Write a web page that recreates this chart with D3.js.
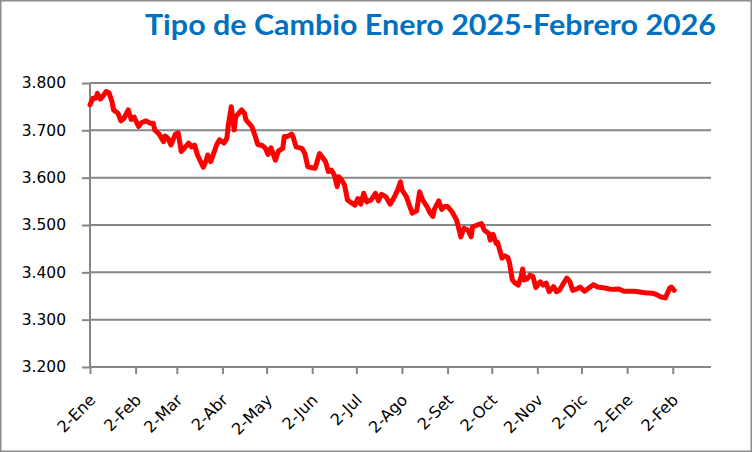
<!DOCTYPE html>
<html>
<head>
<meta charset="utf-8">
<script src="https://cdn.jsdelivr.net/npm/d3@7"></script>
<style>
  html, body { margin: 0; padding: 0; background: #fff; }
  svg { display: block; }
</style>
</head>
<body>
<svg id="chart" width="752" height="452"></svg>
<script>
const title = "Tipo de Cambio Enero 2025-Febrero 2026";

const dates = [
  "2025-01-02","2025-01-04","2025-01-06","2025-01-07","2025-01-09","2025-01-11","2025-01-13","2025-01-15","2025-01-17","2025-01-18",
  "2025-01-21","2025-01-23","2025-01-25","2025-01-28","2025-01-30","2025-02-01","2025-02-04","2025-02-06","2025-02-09","2025-02-12",
  "2025-02-14","2025-02-15","2025-02-18","2025-02-21","2025-02-22","2025-02-24","2025-02-26","2025-03-01","2025-03-03","2025-03-05",
  "2025-03-07","2025-03-10","2025-03-12","2025-03-14","2025-03-16","2025-03-20","2025-03-22","2025-03-23","2025-03-25","2025-03-27",
  "2025-03-29","2025-03-31","2025-04-03","2025-04-05","2025-04-06","2025-04-08","2025-04-10","2025-04-11","2025-04-13","2025-04-15",
  "2025-04-17","2025-04-18","2025-04-22","2025-04-24","2025-04-26","2025-04-29","2025-05-01","2025-05-03","2025-05-05","2025-05-08",
  "2025-05-10","2025-05-13","2025-05-14","2025-05-16","2025-05-19","2025-05-20","2025-05-22","2025-05-26","2025-05-28","2025-05-30",
  "2025-06-02","2025-06-04","2025-06-07","2025-06-11","2025-06-13","2025-06-15","2025-06-17","2025-06-19","2025-06-20","2025-06-22",
  "2025-06-24","2025-06-26","2025-06-29","2025-07-01","2025-07-03","2025-07-05","2025-07-07","2025-07-09","2025-07-12","2025-07-15",
  "2025-07-17","2025-07-19","2025-07-22","2025-07-25","2025-07-28","2025-07-30","2025-08-01","2025-08-02","2025-08-05","2025-08-07",
  "2025-08-09","2025-08-12","2025-08-14","2025-08-16","2025-08-19","2025-08-21","2025-08-23","2025-08-24","2025-08-27","2025-08-29",
  "2025-08-31","2025-09-02","2025-09-05","2025-09-08","2025-09-09","2025-09-11","2025-09-13","2025-09-16","2025-09-18","2025-09-19",
  "2025-09-23","2025-09-25","2025-09-27","2025-09-30","2025-10-01","2025-10-03","2025-10-05","2025-10-06","2025-10-09","2025-10-11",
  "2025-10-13","2025-10-14","2025-10-16","2025-10-18","2025-10-20","2025-10-22","2025-10-23","2025-10-24","2025-10-26","2025-10-28",
  "2025-10-30","2025-11-01","2025-11-04","2025-11-06","2025-11-08","2025-11-10","2025-11-13","2025-11-15","2025-11-17","2025-11-20",
  "2025-11-22","2025-11-24","2025-11-26","2025-11-29","2025-12-01","2025-12-04","2025-12-07","2025-12-10","2025-12-13","2025-12-18",
  "2025-12-22","2025-12-27","2025-12-31","2026-01-07","2026-01-14","2026-01-19","2026-01-22","2026-01-25","2026-01-28","2026-01-29",
  "2026-01-31","2026-02-01","2026-02-03"
];

const values = [
  3.754,3.768,3.768,3.778,3.766,3.773,3.782,3.779,3.760,3.743,
  3.736,3.720,3.725,3.743,3.723,3.728,3.708,3.716,3.720,3.715,
  3.715,3.701,3.692,3.676,3.688,3.683,3.669,3.692,3.694,3.655,
  3.662,3.673,3.665,3.669,3.648,3.622,3.637,3.648,3.634,3.651,
  3.669,3.680,3.673,3.683,3.711,3.750,3.701,3.729,3.736,3.743,
  3.736,3.722,3.708,3.690,3.670,3.668,3.663,3.649,3.663,3.637,
  3.656,3.662,3.687,3.687,3.692,3.687,3.665,3.662,3.651,3.623,
  3.621,3.620,3.651,3.634,3.613,3.616,3.606,3.581,3.602,3.595,
  3.584,3.553,3.546,3.542,3.556,3.544,3.567,3.549,3.553,3.567,
  3.551,3.565,3.560,3.544,3.560,3.574,3.591,3.574,3.560,3.542,
  3.525,3.530,3.570,3.553,3.539,3.526,3.518,3.533,3.551,3.533,
  3.539,3.539,3.528,3.511,3.500,3.475,3.493,3.489,3.475,3.496,
  3.501,3.503,3.489,3.482,3.468,3.480,3.461,3.463,3.430,3.435,
  3.431,3.421,3.384,3.377,3.373,3.391,3.407,3.384,3.386,3.394,
  3.391,3.368,3.380,3.373,3.377,3.359,3.370,3.359,3.362,3.378,
  3.388,3.381,3.362,3.365,3.369,3.360,3.367,3.374,3.369,3.367,
  3.364,3.365,3.360,3.360,3.357,3.356,3.353,3.348,3.346,3.353,
  3.367,3.369,3.362
];

const tickDates = [
  "2025-01-02","2025-02-02","2025-03-02","2025-04-02","2025-05-02","2025-06-02","2025-07-02",
  "2025-08-02","2025-09-02","2025-10-02","2025-11-02","2025-12-02","2026-01-02","2026-02-02"
];
const tickLabels = ["2-Ene","2-Feb","2-Mar","2-Abr","2-May","2-Jun","2-Jul","2-Ago","2-Set","2-Oct","2-Nov","2-Dic","2-Ene","2-Feb"];
const yTicks = [3.2, 3.3, 3.4, 3.5, 3.6, 3.7, 3.8];
const xDomain = ["2025-01-02", "2026-02-28"];

const parse = d3.utcParse("%Y-%m-%d");
const data = dates.map((d, i) => ({ date: parse(d), value: values[i] }));

const svg = d3.select("#chart");
const plotL = 90, plotR = 711, plotT = 83, plotB = 367;

const x = d3.scaleUtc().domain(xDomain.map(parse)).range([plotL, plotR]);
const y = d3.scaleLinear().domain([3.2, 3.8]).range([plotB, plotT]);

// outer border
svg.append("rect").attr("x", 0.75).attr("y", 0.75).attr("width", 750.5).attr("height", 450.5)
  .attr("fill", "#fff").attr("stroke", "#8c8c8c").attr("stroke-width", 1.5);

// title
svg.append("text").attr("x", 716).attr("y", 35).attr("text-anchor", "end")
  .attr("font-family", "Lato, 'Open Sans', sans-serif").attr("font-weight", "bold")
  .attr("font-size", 28).attr("fill", "#0070C0")
  .attr("textLength", 571).attr("lengthAdjust", "spacingAndGlyphs")
  .text(title);

// gridlines
svg.append("g").selectAll("line").data(yTicks.filter(v => v > 3.2)).join("line")
  .attr("x1", plotL).attr("x2", plotR)
  .attr("y1", d => y(d)).attr("y2", d => y(d))
  .attr("stroke", "#868686").attr("stroke-width", 2);

// y axis
const yAxis = d3.axisLeft(y).tickValues(yTicks).tickSize(8).tickPadding(16)
  .tickFormat(d => d3.format(".3f")(d));
const gy = svg.append("g").attr("transform", `translate(${plotL},0)`).call(yAxis);
gy.select(".domain").attr("stroke", "#868686").attr("stroke-width", 2).attr("d", `M0,${plotT}V${plotB}`);
gy.selectAll(".tick line").attr("stroke", "#868686").attr("stroke-width", 2);
gy.selectAll(".tick text").attr("font-family", "'DejaVu Sans', sans-serif").attr("font-size", 15.5).attr("fill", "#000");

// x axis
const xAxis = d3.axisBottom(x).tickValues(tickDates.map(parse)).tickSize(7)
  .tickFormat((d, i) => tickLabels[i]);
const gx = svg.append("g").attr("transform", `translate(0,${plotB})`).call(xAxis);
gx.select(".domain").attr("stroke", "#868686").attr("stroke-width", 2).attr("d", `M${plotL},0H${plotR}`);
gx.selectAll(".tick line").attr("stroke", "#868686").attr("stroke-width", 2);
gx.selectAll(".tick text")
  .attr("font-family", "'DejaVu Sans', sans-serif").attr("font-size", 16).attr("fill", "#000")
  .attr("text-anchor", "end").attr("dy", null).attr("y", 0)
  .attr("transform", "translate(6,34) rotate(-45)");

// line
const line = d3.line().x(d => x(d.date)).y(d => y(d.value)).curve(d3.curveLinear);
svg.append("path").datum(data).attr("d", line)
  .attr("fill", "none").attr("stroke", "#ff0000").attr("stroke-width", 5)
  .attr("stroke-linejoin", "round").attr("stroke-linecap", "round");
</script>
</body>
</html>
